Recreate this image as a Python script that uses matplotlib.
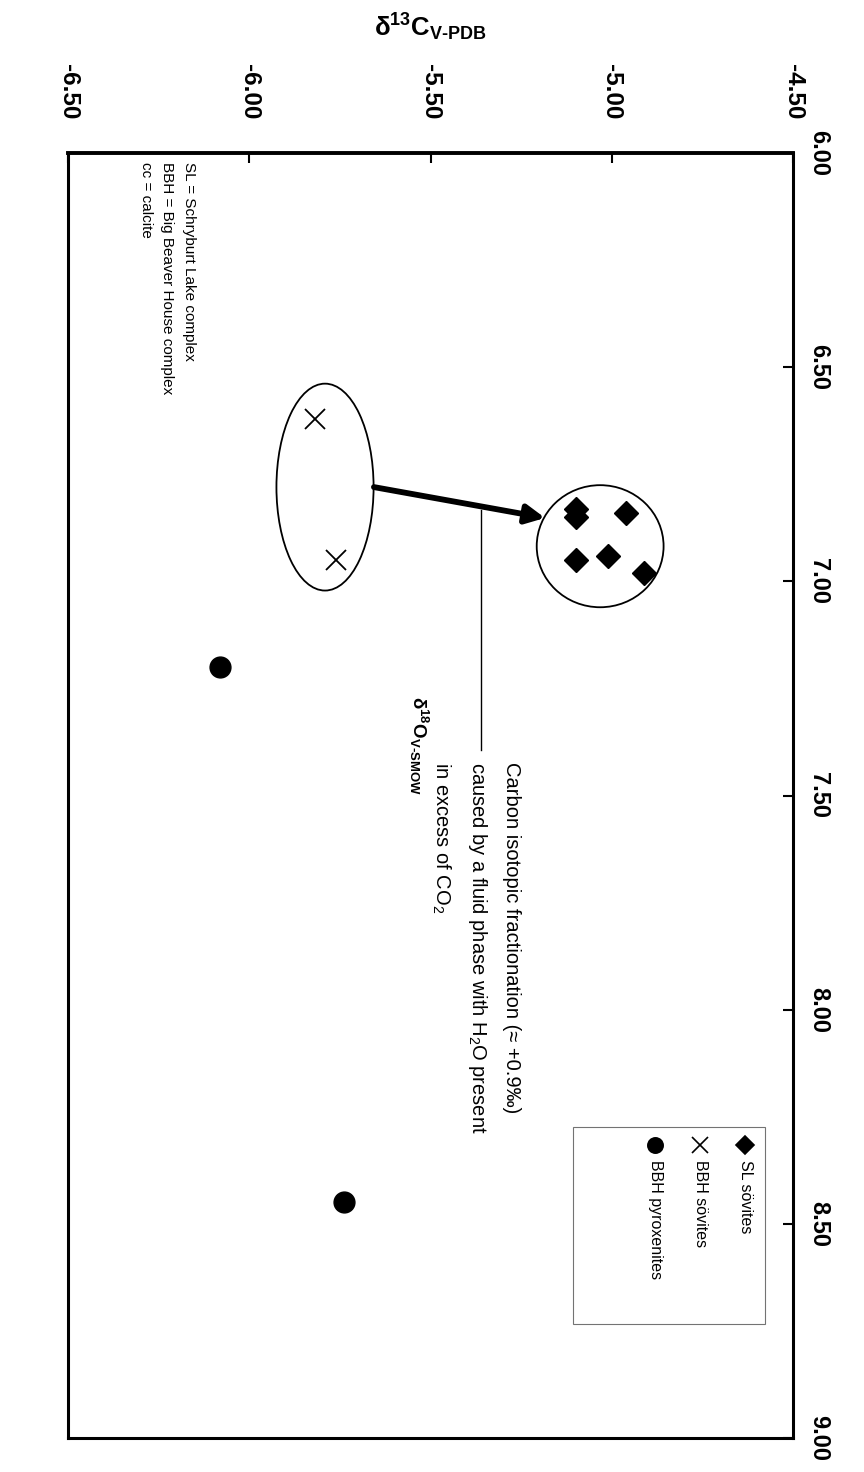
import matplotlib
matplotlib.use("Agg")
import matplotlib.pyplot as plt
from matplotlib.patches import Ellipse, Rectangle

plt.rcParams['font.family'] = ['Liberation Sans', 'DejaVu Sans']
plt.rcParams['mathtext.default'] = 'regular'

# d13C (V-PDB) and d18O (V-SMOW) per sample group
sl_c = [-5.10, -5.10, -4.96, -5.10, -5.01, -4.91]
sl_o = [6.83, 6.85, 6.84, 6.95, 6.94, 6.98]
bbh_c = [-5.82, -5.76]
bbh_o = [6.62, 6.95]
pyx_c = [-6.08, -5.74]
pyx_o = [7.20, 8.45]

c_ticks = [-6.50, -6.00, -5.50, -5.00, -4.50]
o_ticks = [6.00, 6.50, 7.00, 7.50, 8.00, 8.50, 9.00]

W, H = 864, 1472
fig = plt.figure(figsize=(W / 100, H / 100), dpi=100)
ax = fig.add_axes([68 / W, 1 - 1438 / H, (793 - 68) / W, (1438 - 153) / H])

ax.set_xlim(-6.5, -4.5)
ax.set_ylim(9.0, 6.0)
for s in ax.spines.values():
    s.set_linewidth(2.2)
ax.spines['top'].set_linewidth(2.8)

ax.xaxis.tick_top()
ax.yaxis.tick_right()
ax.set_xticks(c_ticks)
ax.set_xticklabels(['%.2f' % v for v in c_ticks], rotation=-90,
                   fontsize=17.5, fontweight='bold')
ax.set_yticks(o_ticks)
ax.set_yticklabels(['%.2f' % v for v in o_ticks], rotation=-90,
                   fontsize=17, fontweight='bold', va='center')
ax.tick_params(axis='x', direction='in', length=7, width=1.5, pad=24)
ax.tick_params(axis='y', direction='in', length=7, width=1.5, pad=10)

# groups circled
ax.add_patch(Ellipse((-5.032, 6.918), 0.35, 0.285, fill=False, lw=1.3, ec='k'))
ax.add_patch(Ellipse((-5.791, 6.78), 0.268, 0.483, fill=False, lw=1.3, ec='k'))

ax.plot(sl_c, sl_o, 'D', color='k', ms=12, ls='none')
ax.plot(bbh_c, bbh_o, 'x', color='k', ms=14, mew=1.3, ls='none')
ax.plot(pyx_c, pyx_o, 'o', color='k', ms=15, ls='none')

ax.annotate('', xy=(-5.184, 6.852), xytext=(-5.656, 6.78),
            arrowprops=dict(arrowstyle='-|>', lw=4.2, mutation_scale=28, color='k',
                            shrinkA=0, shrinkB=0))
ax.plot([-5.361, -5.361], [6.834, 7.394], color='k', lw=1)

ax.text(-5.25, 7.422,
        'Carbon isotopic fractionation (\u2248 +0.9\u2030)\n'
        'caused by a fluid phase with H$_2$O present\n'
        'in excess of CO$_2$',
        rotation=-90, ha='right', va='top', fontsize=14.5,
        multialignment='left', linespacing=1.8)

ax.text(-6.147, 6.02,
        'SL = Schryburt Lake complex\nBBH = Big Beaver House complex\ncc = calcite',
        rotation=-90, ha='right', va='top', fontsize=11,
        multialignment='left', linespacing=1.68)

# legend box
ax.add_patch(Rectangle((-5.107, 8.274), 0.53, 0.46, fill=False, lw=0.8, ec='0.45'))
leg = [('D', 9, 'SL s\u00f6vites'), ('x', 11, 'BBH s\u00f6vites'),
       ('o', 11, 'BBH pyroxenites')]
for i, (m, size, lab) in enumerate(leg):
    cx = -4.632 - i * 0.124
    ax.plot([cx], [8.316], m, color='k', ms=size, mew=1.2)
    ax.text(cx, 8.351, lab, rotation=-90, ha='center', va='top', fontsize=11.5)

fig.text(430 / W, 1 - 27 / H, '\u03b4$^{13}$C$_{V\u2010PDB}$', ha='center',
         va='center', fontsize=18.5, fontweight='bold')
fig.text(419 / W, 1 - 745 / H, '\u03b4$^{18}$O$_{V\u2010SMOW}$', ha='center',
         va='center', fontsize=13.5, fontweight='bold', rotation=-90)

fig.savefig('out.png', dpi=100)
